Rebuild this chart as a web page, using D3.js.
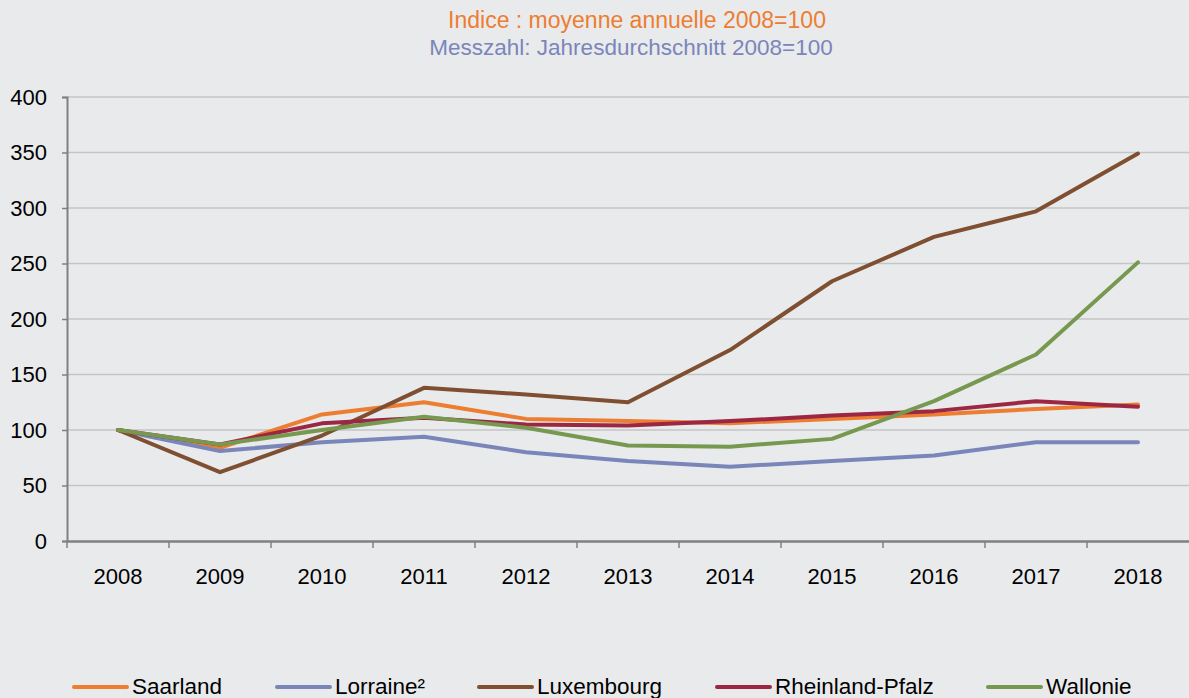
<!DOCTYPE html>
<html>
<head>
<meta charset="utf-8">
<script src="https://cdn.jsdelivr.net/npm/d3@7"></script>
<style>
  html,body{margin:0;padding:0;background:#e9eaec;}
  svg{display:block;font-family:"Liberation Sans",Arial,sans-serif;}
</style>
</head>
<body>
<svg id="chart" width="1189" height="698"></svg>
<script>
const years=["2008","2009","2010","2011","2012","2013","2014","2015","2016","2017","2018"];
const yTicks=[0,50,100,150,200,250,300,350,400];

const saarland=[100,84,114,125,110,108,106,110,114,119,123];
const lorraine=[100,81,89,94,80,72,67,72,77,89,89];
const luxembourg=[100,62,95,138,132,125,172,234,274,297,349];
const rheinland=[100,87,106,111,105,104,108,113,117,126,121];
const wallonie=[100,87,100,112,102,86,85,92,126,168,251];

const seriesNames=["Saarland","Lorraine²","Luxembourg","Rheinland-Pfalz","Wallonie"];
const seriesColors=["#ed7d31","#7a86ba","#7f4f31","#9b2743","#77994f"];
const seriesValues=[saarland,lorraine,luxembourg,rheinland,wallonie];

const svg=d3.select("#chart");
const W=1189;
const m={top:97,right:0,bottom:157,left:67};
const h=698;

const x=d3.scaleBand().domain(years).range([m.left,W-m.right]);
const y=d3.scaleLinear().domain([0,400]).range([h-m.bottom,m.top]);

// title
svg.append("text").attr("x",637).attr("y",28).attr("text-anchor","middle")
  .attr("font-size","23px").attr("fill","#ed7d31").text("Indice : moyenne annuelle 2008=100");
svg.append("text").attr("x",631).attr("y",55).attr("text-anchor","middle")
  .attr("font-size","22.5px").attr("fill","#7a86ba").text("Messzahl: Jahresdurchschnitt 2008=100");

// gridlines
svg.append("g").selectAll("line").data(yTicks.filter(d=>d>0)).enter().append("line")
  .attr("x1",m.left).attr("x2",W).attr("y1",d=>y(d)).attr("y2",d=>y(d))
  .attr("stroke","#c4c5c7").attr("stroke-width",1.5);

// y axis
const gy=svg.append("g").attr("transform",`translate(${m.left},0)`)
  .call(d3.axisLeft(y).tickValues(yTicks).tickSize(5).tickPadding(15));
gy.select(".domain").attr("stroke","#808080").attr("stroke-width",2);
gy.selectAll(".tick line").attr("stroke","#808080").attr("stroke-width",1.5);
gy.selectAll("text").attr("font-size","22px").attr("fill","#000").attr("font-family","Liberation Sans, Arial, sans-serif");

// x axis
const gx=svg.append("g").attr("transform",`translate(0,${y(0)})`)
  .call(d3.axisBottom(x).tickSize(0).tickPadding(27));
gx.select(".domain").attr("stroke","#808080").attr("stroke-width",2.5);
gx.selectAll("text").attr("font-size","22px").attr("fill","#000").attr("font-family","Liberation Sans, Arial, sans-serif");
svg.append("g").selectAll("line").data(years).enter().append("line")
  .attr("x1",d=>x(d)).attr("x2",d=>x(d)).attr("y1",y(0)).attr("y2",y(0)+7)
  .attr("stroke","#808080").attr("stroke-width",1.5);

// lines
const line=d3.line().x((d,i)=>x(years[i])+x.bandwidth()/2).y(d=>y(d));
seriesValues.forEach((vals,i)=>{
  svg.append("path").datum(vals).attr("d",line)
    .attr("fill","none").attr("stroke",seriesColors[i]).attr("stroke-width",4)
    .attr("stroke-linejoin","round").attr("stroke-linecap","round");
});

// legend
const legX=[74,277,479,717,988];
const leg=svg.append("g");
seriesNames.forEach((n,i)=>{
  leg.append("line").attr("x1",legX[i]).attr("x2",legX[i]+53).attr("y1",687).attr("y2",687)
    .attr("stroke",seriesColors[i]).attr("stroke-width",4).attr("stroke-linecap","round");
  leg.append("text").attr("x",legX[i]+58).attr("y",694).attr("font-size","22.5px")
    .attr("fill","#000").text(n);
});
</script>
</body>
</html>
